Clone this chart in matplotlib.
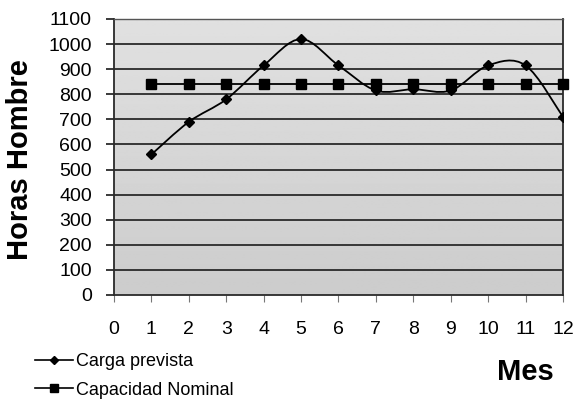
import numpy as np
import matplotlib
matplotlib.use("Agg")
import matplotlib.pyplot as plt
from matplotlib.path import Path
from matplotlib.patches import PathPatch
from matplotlib.lines import Line2D

plt.rcParams['font.family'] = ['Liberation Sans', 'DejaVu Sans']

meses = [1, 2, 3, 4, 5, 6, 7, 8, 9, 10, 11, 12]
carga_prevista = [560, 690, 780, 915, 1020, 915, 815, 820, 815, 915, 915, 710]
capacidad_nominal = [840, 840, 840, 840, 840, 840, 840, 840, 840, 840, 840, 840]
x_ticks = list(range(0, 13))
y_ticks = list(range(0, 1101, 100))


def smooth_path(xs, ys):
    # Catmull-Rom style bezier through the points, like a spreadsheet "smoothed line"
    pts = np.column_stack([xs, ys]).astype(float)
    n = len(pts)
    verts = [pts[0]]
    codes = [Path.MOVETO]
    for i in range(n - 1):
        p0 = pts[i - 1] if i > 0 else pts[i]
        p1 = pts[i]
        p2 = pts[i + 1]
        p3 = pts[i + 2] if i + 2 < n else pts[i + 1]
        c1 = p1 + (p2 - p0) / 6.0
        c2 = p2 - (p3 - p1) / 6.0
        verts += [c1, c2, p2]
        codes += [Path.CURVE4] * 3
    return Path(verts, codes)


fig = plt.figure(figsize=(5.77, 3.99), dpi=100)
ax = fig.add_axes([0.1976, 0.2607, 0.7781, 0.6917])

# grey plot area, a little lighter at the top
grad = np.linspace(0.80, 0.88, 256).reshape(-1, 1)
ax.imshow(grad, cmap='gray', vmin=0, vmax=1, aspect='auto', origin='lower',
          extent=[0, 1, 0, 1], transform=ax.transAxes, zorder=0)

ax.set_xlim(0, 12)
ax.set_ylim(0, 1100)

for y in y_ticks[1:]:
    ax.axhline(y, color='#2a2a2a', lw=1.3, zorder=1)

ax.add_patch(PathPatch(smooth_path(meses, carga_prevista), fill=False,
                       edgecolor='black', lw=1.3, zorder=3))
ax.plot(meses, carga_prevista, ls='none', marker='D', ms=5.5, color='black', zorder=4)
ax.plot(meses, capacidad_nominal, color='black', lw=1.3, marker='s', ms=7.5,
        clip_on=False, zorder=5)

ax.set_xticks(x_ticks)
ax.set_yticks(y_ticks)
ax.tick_params(axis='x', length=5, width=0.8, color='#777777', pad=14, labelsize=14)
ax.tick_params(axis='y', length=6, width=1.3, color='#2a2a2a', pad=10, labelsize=14)

for side in ['left', 'bottom', 'right', 'top']:
    ax.spines[side].set_color('#2a2a2a')
    ax.spines[side].set_linewidth(1.3)
ax.spines['top'].set_color('#555555')
ax.spines['top'].set_linewidth(1.0)

fig.text(0.035, 0.60, 'Horas Hombre', rotation=90, fontsize=21, fontweight='bold',
         ha='center', va='center')
fig.text(0.91, 0.068, 'Mes', fontsize=21, fontweight='bold', ha='center', va='center')

handles = [Line2D([], [], color='black', lw=1.2, marker='D', ms=4.5),
           Line2D([], [], color='black', lw=1.2, marker='s', ms=6)]
fig.legend(handles, ['Carga prevista', 'Capacidad Nominal'], loc='center left',
           bbox_to_anchor=(0.045, 0.058), frameon=False, fontsize=13,
           handlelength=2.1, handletextpad=0.15, labelspacing=0.65, borderpad=0)

fig.savefig('out.png', dpi=100)
